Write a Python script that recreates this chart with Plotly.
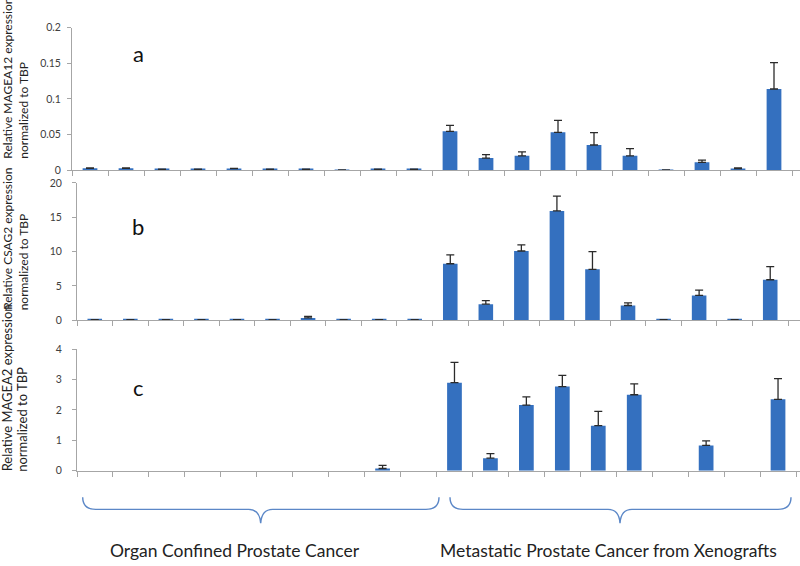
"""Relative expression of cancer-testis genes in prostate cancer samples."""

import plotly.graph_objects as go

W, H = 800, 566

# 10 organ-confined tumours followed by 10 metastatic xenografts
samples = [f"OC{i}" for i in range(1, 11)] + [f"MX{i}" for i in range(1, 11)]

# panel a: MAGEA12
magea12 = [0.003, 0.003, 0.0015, 0.0015, 0.0025, 0.0015, 0.0015, 0.0005, 0.0015, 0.0015,
           0.0548, 0.0173, 0.0205, 0.0534, 0.0356, 0.0205, 0.0005, 0.0114, 0.0027, 0.114]
magea12_err = [0.0005, 0.0005, 0.0003, 0.0003, 0.0005, 0.0003, 0.0003, 0.0002, 0.0003, 0.0003,
               0.0082, 0.0047, 0.0055, 0.0166, 0.0174, 0.0100, 0.0003, 0.0031, 0.0008, 0.037]

# panel b: CSAG2
csag2 = [0.05, 0.05, 0.05, 0.05, 0.05, 0.05, 0.33, 0.05, 0.05, 0.05,
         8.22, 2.33, 10.08, 15.92, 7.41, 2.14, 0.05, 3.61, 0.05, 5.89]
csag2_err = [0.02, 0.02, 0.02, 0.02, 0.02, 0.02, 0.24, 0.02, 0.02, 0.02,
             1.28, 0.52, 0.90, 2.14, 2.57, 0.38, 0.02, 0.76, 0.02, 1.91]

# panel c: MAGEA2 (None = not detected, no bar drawn)
magea2 = [None, None, None, None, None, None, None, None, 0.07, None,
          2.90, 0.41, 2.16, 2.77, 1.48, 2.50, None, 0.83, None, 2.35]
magea2_err = [0, 0, 0, 0, 0, 0, 0, 0, 0.10, 0,
              0.67, 0.15, 0.27, 0.37, 0.47, 0.36, 0, 0.15, 0, 0.68]

panels = [
    # values, errors, tick values, tick text, letter, gene, pixel geometry
    dict(y=magea12, err=magea12_err, tickvals=[0, 0.05, 0.1, 0.15, 0.2],
         ticktext=["0", "0.05", "0.1", "0.15", "0.2"], letter="a", gene="MAGEA12",
         x0=72, cat=36.0, ytop=22, ybot=168, standoff=4, letter_y=49,
         title_bot=158, title_size=12, title_x=(7.5, 23.5)),
    dict(y=csag2, err=csag2_err, tickvals=[0, 5, 10, 15, 20],
         ticktext=["0", "5", "10", "15", "20"], letter="b", gene="CSAG2",
         x0=77, cat=35.55, ytop=180.7, ybot=321, standoff=8, letter_y=225,
         title_bot=313, title_size=12, title_x=(7.5, 23.5)),
    dict(y=magea2, err=magea2_err, tickvals=[0, 1, 2, 3, 4],
         ticktext=["0", "1", "2", "3", "4"], letter="c", gene="MAGEA2",
         x0=77, cat=35.95, ytop=350.7, ybot=474.7, standoff=8, letter_y=390,
         title_bot=478, title_size=13, title_x=(7, 22.5)),
]

AXIS_GREY = "#a6a6a6"
BAR_BLUE = "#3470bf"
FONT = "Lato"


def px_x(x):
    return x / W


def px_y(y):
    return 1 - y / H


def note(text, x, y, size, **kw):
    return dict(text=text, x=px_x(x), y=px_y(y), xref="paper", yref="paper",
                showarrow=False, xanchor=kw.pop("xanchor", "center"),
                yanchor=kw.pop("yanchor", "middle"),
                font=dict(family=FONT, size=size, color=kw.pop("color", "#222")), **kw)


fig = go.Figure()
annotations = []
shapes = []
for i, p in enumerate(panels, start=1):
    xa = "x" if i == 1 else f"x{i}"
    ya = "y" if i == 1 else f"y{i}"
    fig.add_trace(
        go.Bar(
            x=samples,
            y=p["y"],
            xaxis=xa,
            yaxis=ya,
            marker=dict(color=BAR_BLUE, line=dict(width=0)),
            error_y=dict(type="data", array=p["err"], symmetric=False,
                         arrayminus=[0] * len(samples), color="#2b2b2b",
                         thickness=1.3, width=4),
            showlegend=False,
        )
    )
    span = (W - p["x0"]) / p["cat"]
    axis_common = dict(showline=True, linecolor=AXIS_GREY, linewidth=1,
                       ticks="outside", tickcolor=AXIS_GREY, showgrid=False,
                       zeroline=False)
    fig.update_layout({
        f"xaxis{'' if i == 1 else i}": dict(
            domain=[px_x(p["x0"]), 1], range=[-0.5, -0.5 + span],
            type="category", tickson="boundaries", ticklen=5,
            showticklabels=False, anchor=ya, **axis_common),
        f"yaxis{'' if i == 1 else i}": dict(
            domain=[px_y(p["ybot"]), px_y(p["ytop"])],
            range=[0, p["tickvals"][-1]], tickvals=p["tickvals"],
            ticktext=p["ticktext"], ticklen=4, ticklabelstandoff=p["standoff"],
            tickfont=dict(family=FONT, size=10.5, color="#404040"),
            anchor=xa, **axis_common),
    })
    # panel letter
    annotations.append(note(p["letter"], 138, p["letter_y"], 22, color="#111"))
    # two-line axis title, both lines starting at the bottom
    for text, xc in zip((f"Relative {p['gene']} expression", "normalized to TBP"),
                        p["title_x"]):
        annotations.append(note(text, xc, p["title_bot"], p["title_size"],
                                textangle=-90, yanchor="bottom"))


def brace(x0, x1, tip, y_end=502, y_mid=514.3, y_tip=528.3):
    pts = [
        f"M{px_x(x0)},{px_y(y_end)}",
        f"Q{px_x(x0)},{px_y(y_mid)} {px_x(x0 + 13)},{px_y(y_mid)}",
        f"L{px_x(tip - 12)},{px_y(y_mid)}",
        f"Q{px_x(tip - 1)},{px_y(y_mid)} {px_x(tip)},{px_y(y_tip)}",
        f"Q{px_x(tip + 1)},{px_y(y_mid)} {px_x(tip + 12)},{px_y(y_mid)}",
        f"L{px_x(x1 - 13)},{px_y(y_mid)}",
        f"Q{px_x(x1)},{px_y(y_mid)} {px_x(x1)},{px_y(y_end)}",
    ]
    return dict(type="path", path=" ".join(pts), xref="paper", yref="paper",
                line=dict(color="#5b87c7", width=1.4))


groups = [("Organ Confined Prostate Cancer", 82.7, 439, 260.7, 235),
          ("Metastatic Prostate Cancer from Xenografts", 450, 791, 620, 608)]
for label, x0, x1, tip, xc in groups:
    shapes.append(brace(x0, x1, tip))
    annotations.append(note(label, xc, 556, 17.5))

fig.update_layout(
    width=W,
    height=H,
    margin=dict(l=0, r=0, t=0, b=0),
    plot_bgcolor="white",
    paper_bgcolor="white",
    bargap=0.59,
    annotations=annotations,
    shapes=shapes,
)

# drop the browser's default body margin so the figure sits at the page corner
fig.write_html("out.html", config={"displayModeBar": False},
               post_script="document.body.style.margin = '0';")
